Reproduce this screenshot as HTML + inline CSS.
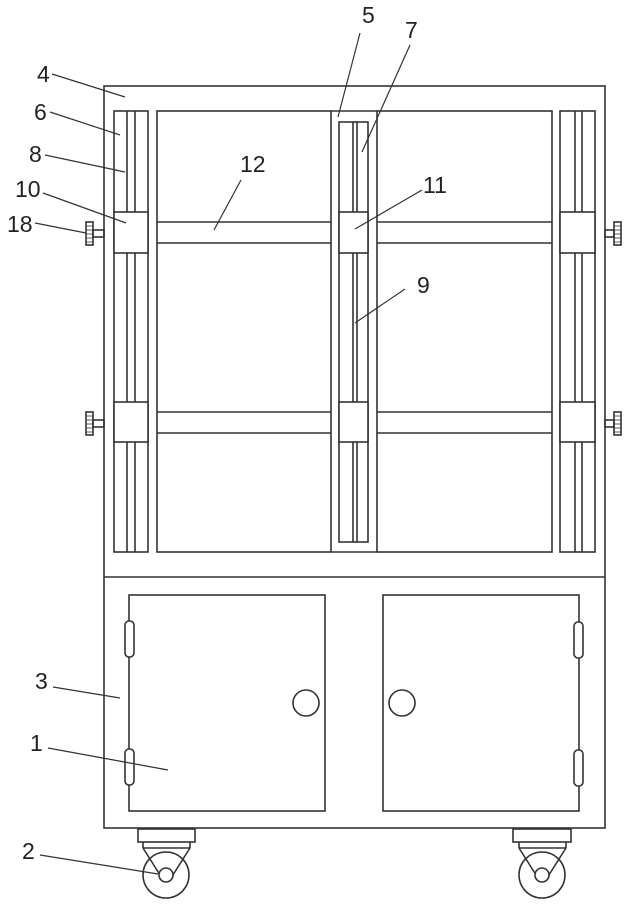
<!DOCTYPE html>
<html><head><meta charset="utf-8"><style>
html,body{margin:0;padding:0;background:#fff;width:629px;height:905px;overflow:hidden}
svg{display:block}
text{font-family:"Liberation Sans",sans-serif;font-size:23px;fill:#222}
</style></head><body>
<svg width="629" height="905" viewBox="0 0 629 905" xmlns="http://www.w3.org/2000/svg">
<g fill="none" stroke="#333" stroke-width="1.6">
<!-- outer frame -->
<rect x="104" y="86" width="501" height="742"/>
<line x1="104" y1="577" x2="605" y2="577"/>
<!-- left column -->
<rect x="114" y="111" width="34" height="441"/>
<line x1="127" y1="111" x2="127" y2="552"/><line x1="135" y1="111" x2="135" y2="552"/>
<rect x="114" y="212" width="34" height="41" fill="#fff"/>
<rect x="114" y="402" width="34" height="40" fill="#fff"/>
<!-- right column -->
<rect x="560" y="111" width="35" height="441"/>
<line x1="575" y1="111" x2="575" y2="552"/><line x1="582" y1="111" x2="582" y2="552"/>
<rect x="560" y="212" width="35" height="41" fill="#fff"/>
<rect x="560" y="402" width="35" height="40" fill="#fff"/>
<!-- glass panels -->
<rect x="157" y="111" width="174" height="441"/>
<rect x="377" y="111" width="175" height="441"/>
<line x1="331" y1="111" x2="377" y2="111"/><line x1="331" y1="552" x2="377" y2="552"/>
<!-- bars -->
<line x1="157" y1="222" x2="331" y2="222"/><line x1="157" y1="243" x2="331" y2="243"/>
<line x1="377" y1="222" x2="552" y2="222"/><line x1="377" y1="243" x2="552" y2="243"/>
<line x1="157" y1="412" x2="331" y2="412"/><line x1="157" y1="433" x2="331" y2="433"/>
<line x1="377" y1="412" x2="552" y2="412"/><line x1="377" y1="433" x2="552" y2="433"/>
<!-- middle column -->
<rect x="339" y="122" width="29" height="420"/>
<line x1="353" y1="122" x2="353" y2="542"/><line x1="357" y1="122" x2="357" y2="542"/>
<rect x="339" y="212" width="29" height="41" fill="#fff"/>
<rect x="339" y="402" width="29" height="40" fill="#fff"/>
<!-- knobs -->
<rect x="93" y="230" width="11" height="7"/><rect x="86" y="222" width="7" height="23"/>
<rect x="93" y="420" width="11" height="7"/><rect x="86" y="412" width="7" height="23"/>
<rect x="605" y="230" width="9" height="7"/><rect x="614" y="222" width="7" height="23"/>
<rect x="605" y="420" width="9" height="7"/><rect x="614" y="412" width="7" height="23"/>
<g stroke-width="0.8">
<line x1="86" y1="226" x2="93" y2="226"/><line x1="86" y1="230" x2="93" y2="230"/><line x1="86" y1="234" x2="93" y2="234"/><line x1="86" y1="238" x2="93" y2="238"/><line x1="86" y1="242" x2="93" y2="242"/>
<line x1="86" y1="416" x2="93" y2="416"/><line x1="86" y1="420" x2="93" y2="420"/><line x1="86" y1="424" x2="93" y2="424"/><line x1="86" y1="428" x2="93" y2="428"/><line x1="86" y1="432" x2="93" y2="432"/>
<line x1="614" y1="226" x2="621" y2="226"/><line x1="614" y1="230" x2="621" y2="230"/><line x1="614" y1="234" x2="621" y2="234"/><line x1="614" y1="238" x2="621" y2="238"/><line x1="614" y1="242" x2="621" y2="242"/>
<line x1="614" y1="416" x2="621" y2="416"/><line x1="614" y1="420" x2="621" y2="420"/><line x1="614" y1="424" x2="621" y2="424"/><line x1="614" y1="428" x2="621" y2="428"/><line x1="614" y1="432" x2="621" y2="432"/>
</g>
<!-- doors -->
<rect x="129" y="595" width="196" height="216"/>
<rect x="383" y="595" width="196" height="216"/>
<circle cx="306" cy="703" r="13"/><circle cx="402" cy="703" r="13"/>
<rect x="125" y="621" width="9" height="36" rx="4" fill="#fff"/>
<rect x="125" y="749" width="9" height="36" rx="4" fill="#fff"/>
<rect x="574" y="622" width="9" height="36" rx="4" fill="#fff"/>
<rect x="574" y="750" width="9" height="36" rx="4" fill="#fff"/>
<!-- casters -->
<rect x="138" y="829" width="57" height="13"/>
<line x1="143" y1="848" x2="190" y2="848"/>
<line x1="143" y1="842" x2="143" y2="848"/><line x1="190" y1="842" x2="190" y2="848"/>
<path d="M143 848 L162 878 M190 848 L171 878"/>
<circle cx="166" cy="875" r="23"/><circle cx="166" cy="875" r="7" fill="#fff"/>
<rect x="513" y="829" width="58" height="13"/>
<line x1="519" y1="848" x2="566" y2="848"/>
<line x1="519" y1="842" x2="519" y2="848"/><line x1="566" y1="842" x2="566" y2="848"/>
<path d="M519 848 L538 878 M566 848 L547 878"/>
<circle cx="542" cy="875" r="23"/><circle cx="542" cy="875" r="7" fill="#fff"/>
<!-- leaders -->
<g stroke-width="1.2">
<line x1="52" y1="74" x2="125" y2="97"/>
<line x1="360" y1="33" x2="338" y2="117"/>
<line x1="410" y1="45" x2="362" y2="152"/>
<line x1="50" y1="112" x2="120" y2="135"/>
<line x1="45" y1="155" x2="125" y2="172"/>
<line x1="43" y1="193" x2="126" y2="223"/>
<line x1="35" y1="223" x2="86" y2="233"/>
<line x1="241" y1="180" x2="214" y2="230"/>
<line x1="422" y1="190" x2="355" y2="229"/>
<line x1="405" y1="289" x2="355" y2="323"/>
<line x1="53" y1="687" x2="120" y2="698"/>
<line x1="48" y1="748" x2="168" y2="770"/>
<line x1="40" y1="855" x2="158" y2="874"/>
</g>
</g>
<text x="37" y="82">4</text>
<text x="362" y="23">5</text>
<text x="405" y="38">7</text>
<text x="34" y="120">6</text>
<text x="29" y="162">8</text>
<text x="15" y="197">10</text>
<text x="7" y="232">18</text>
<text x="240" y="172">12</text>
<text x="423" y="193">11</text>
<text x="417" y="293">9</text>
<text x="35" y="689">3</text>
<text x="30" y="751">1</text>
<text x="22" y="859">2</text>
</svg>
</body></html>
